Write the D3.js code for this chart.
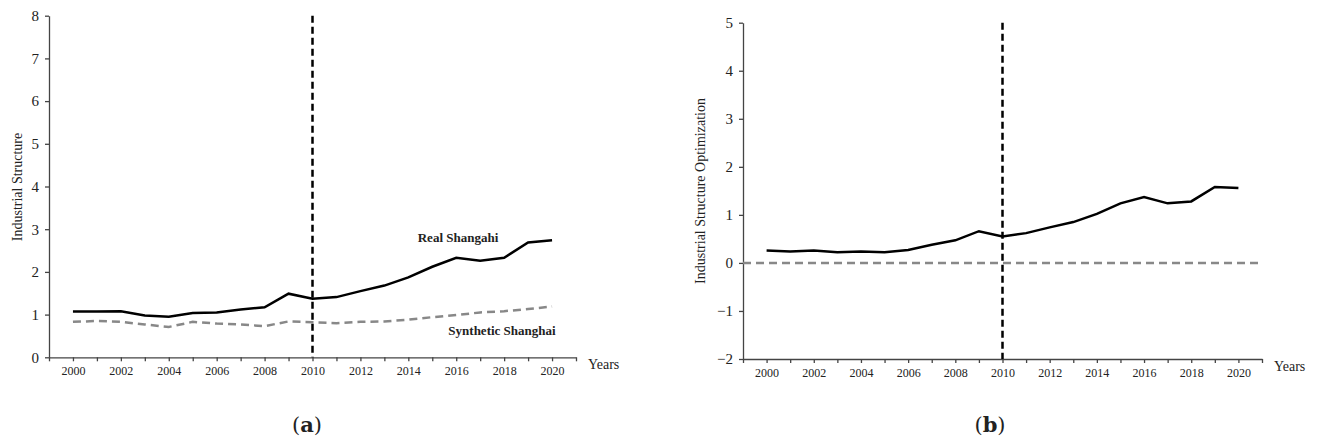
<!DOCTYPE html>
<html lang="en">
<head>
    <meta charset="UTF-8">
    <title>Industrial Structure: Real vs Synthetic Shanghai</title>
    <script src="https://d3js.org/d3.v7.min.js"></script>
    <style>
        body {
            margin: 0;
            background: #fff;
        }
        svg text {
            font-family: "Liberation Serif", "Times New Roman", serif;
            fill: #222;
        }
        .axis path, .axis line {
            stroke: #444;
            stroke-width: 1.3;
        }
    </style>
</head>
<body>
    <div id="chart"></div>

    <script>
        // Data
        const years = d3.range(2000, 2021);
        const realShanghai = [1.07, 1.07, 1.08, 0.98, 0.95, 1.04, 1.05, 1.12, 1.17, 1.49, 1.37,
                              1.41, 1.55, 1.68, 1.87, 2.12, 2.33, 2.26, 2.33, 2.69, 2.74];
        const syntheticShanghai = [0.83, 0.85, 0.83, 0.77, 0.71, 0.83, 0.79, 0.77, 0.73, 0.84, 0.82,
                                   0.80, 0.83, 0.84, 0.88, 0.94, 0.99, 1.05, 1.08, 1.13, 1.19];
        const optimization = [0.26, 0.24, 0.26, 0.22, 0.24, 0.22, 0.27, 0.38, 0.47, 0.66, 0.55,
                              0.62, 0.74, 0.85, 1.02, 1.24, 1.37, 1.24, 1.28, 1.58, 1.56];
        const xTicks = d3.range(1999, 2022);
        const xLabels = d3.range(2000, 2021, 2);
        const yTicksA = d3.range(0, 9);
        const yTicksB = d3.range(-2, 6);
        const treatYear = 2010;

        const svg = d3.select('#chart')
            .append('svg')
            .attr('width', 1317)
            .attr('height', 441);

        // Panel (a)
        const xA = d3.scaleLinear().domain([1999, 2021]).range([49, 576]);
        const yA = d3.scaleLinear().domain([0, 8]).range([357.3, 15.7]);

        // Panel (b)
        const xB = d3.scaleLinear().domain([1999, 2021]).range([743, 1262]);
        const yB = d3.scaleLinear().domain([-2, 5]).range([359, 22.7]);

        function drawAxes(x, y, yTicks, yFormat) {
            const xAxis = d3.axisBottom(x)
                .tickValues(xTicks)
                .tickSize(4)
                .tickSizeOuter(0)
                .tickPadding(5)
                .tickFormat(d => xLabels.includes(d) ? d : '');
            svg.append('g')
                .attr('class', 'axis')
                .attr('transform', `translate(0, ${y.range()[0]})`)
                .call(xAxis)
                .attr('font-family', null)
                .selectAll('text')
                .style('font-size', '12px');

            const yAxis = d3.axisLeft(y)
                .tickValues(yTicks)
                .tickSize(4)
                .tickSizeOuter(0)
                .tickPadding(6)
                .tickFormat(yFormat);
            svg.append('g')
                .attr('class', 'axis')
                .attr('transform', `translate(${x.range()[0]}, 0)`)
                .call(yAxis)
                .attr('font-family', null)
                .selectAll('text')
                .style('font-size', '15px');
        }

        drawAxes(xA, yA, yTicksA, d => d);
        drawAxes(xB, yB, yTicksB, d => d < 0 ? '\u2212' + Math.abs(d) : d);

        const line = (x, y) => d3.line()
            .x((d, i) => x(years[i]))
            .y(d => y(d));

        // Panel (a) lines
        svg.append('path')
            .datum(syntheticShanghai)
            .attr('fill', 'none')
            .attr('stroke', '#888')
            .attr('stroke-width', 2.5)
            .attr('stroke-dasharray', '8,5')
            .attr('d', line(xA, yA));

        svg.append('path')
            .datum(realShanghai)
            .attr('fill', 'none')
            .attr('stroke', '#000')
            .attr('stroke-width', 2.5)
            .attr('d', line(xA, yA));

        // Panel (b) zero reference line
        svg.append('line')
            .attr('x1', xB(1999))
            .attr('x2', xB(2021))
            .attr('y1', yB(0))
            .attr('y2', yB(0))
            .attr('stroke', '#888')
            .attr('stroke-width', 2.5)
            .attr('stroke-dasharray', '8,5');

        svg.append('path')
            .datum(optimization)
            .attr('fill', 'none')
            .attr('stroke', '#000')
            .attr('stroke-width', 2.5)
            .attr('d', line(xB, yB));

        // Treatment year markers
        [[xA, yA], [xB, yB]].forEach(([x, y]) => {
            svg.append('line')
                .attr('x1', x(treatYear))
                .attr('x2', x(treatYear))
                .attr('y1', y.range()[1])
                .attr('y2', y.range()[0])
                .attr('stroke', '#000')
                .attr('stroke-width', 2.5)
                .attr('stroke-dasharray', '7,4');
        });

        // Series labels
        svg.append('text')
            .attr('x', 458)
            .attr('y', 242)
            .attr('text-anchor', 'middle')
            .style('font-size', '13px')
            .style('font-weight', 'bold')
            .text('Real Shangahi');

        svg.append('text')
            .attr('x', 502)
            .attr('y', 335)
            .attr('text-anchor', 'middle')
            .style('font-size', '13px')
            .style('font-weight', 'bold')
            .text('Synthetic Shanghai');

        // Axis titles
        svg.append('text')
            .attr('x', 588)
            .attr('y', 369)
            .style('font-size', '14px')
            .text('Years');

        svg.append('text')
            .attr('x', 1274)
            .attr('y', 371)
            .style('font-size', '14px')
            .text('Years');

        svg.append('text')
            .attr('transform', 'translate(22, 187) rotate(-90)')
            .attr('text-anchor', 'middle')
            .style('font-size', '14px')
            .text('Industrial Structure');

        svg.append('text')
            .attr('transform', 'translate(705, 191) rotate(-90)')
            .attr('text-anchor', 'middle')
            .style('font-size', '14px')
            .text('Industrial Structure Optimization');

        // Panel captions
        [['a', 307], ['b', 990]].forEach(([letter, cx]) => {
            const t = svg.append('text')
                .attr('x', cx)
                .attr('y', 432)
                .attr('text-anchor', 'middle')
                .style('font-family', '"DejaVu Serif", serif')
                .style('font-size', '21px');
            t.append('tspan').text('(');
            t.append('tspan').style('font-weight', 'bold').text(letter);
            t.append('tspan').text(')');
        });
    </script>
</body>
</html>
